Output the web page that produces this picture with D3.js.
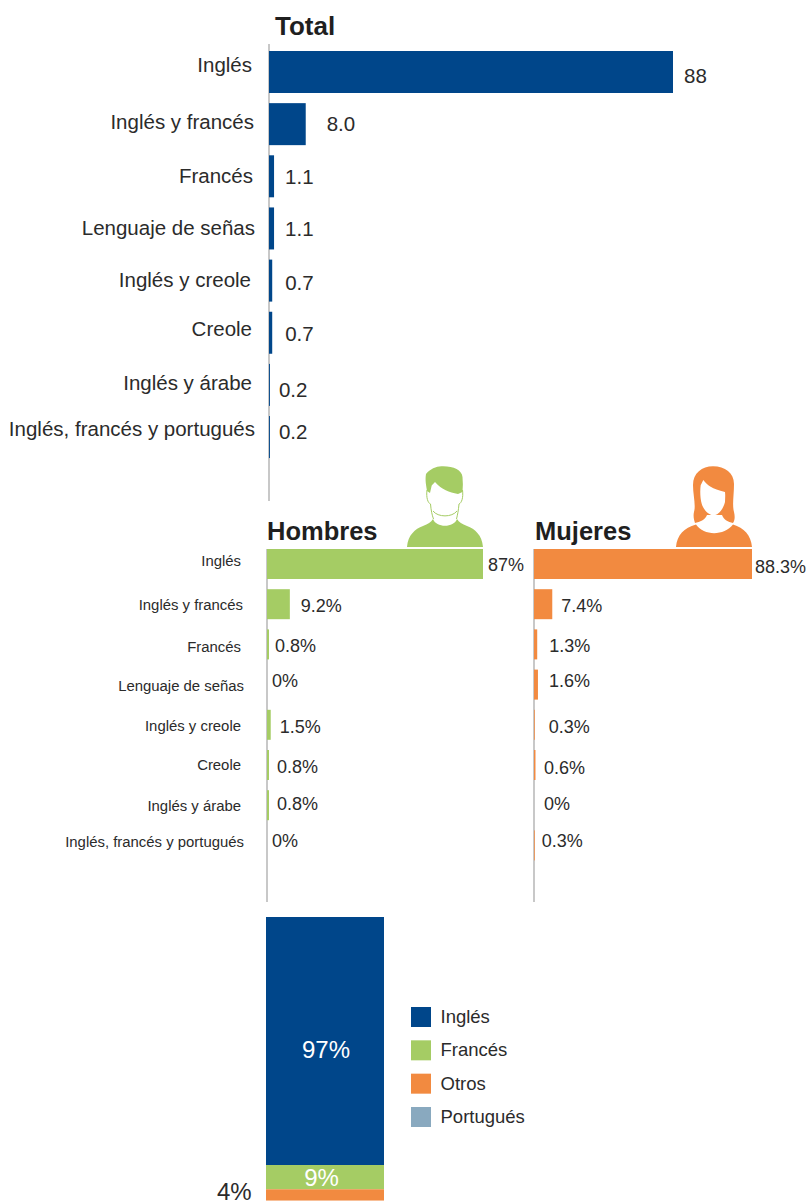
<!DOCTYPE html>
<html><head><meta charset="utf-8">
<script src="https://cdn.jsdelivr.net/npm/d3@7/dist/d3.min.js"></script>
<style>html,body{margin:0;padding:0;background:#fff}svg{display:block}text{font-family:"Liberation Sans",Arial,sans-serif;fill:#2b2b2b}</style>
</head><body><div id="c"></div>
<script>
const categories = ["Inglés","Inglés y francés","Francés","Lenguaje de señas","Inglés y creole","Creole","Inglés y árabe","Inglés, francés y portugués"];
const totalValues = [88,8.0,1.1,1.1,0.7,0.7,0.2,0.2];
const totalLabels = ["88","8.0","1.1","1.1","0.7","0.7","0.2","0.2"];
const menValues = [87,9.2,0.8,0,1.5,0.8,0.8,0];
const womenValues = [88.3,7.4,1.3,1.6,0.3,0.6,0,0.3];
const menLabels = ["87%","9.2%","0.8%","0%","1.5%","0.8%","0.8%","0%"];
const womenLabels = ["88.3%","7.4%","1.3%","1.6%","0.3%","0.6%","0%","0.3%"];
const stackNames = ["Inglés","Francés","Otros"];
const stackValues = [97,9.5,4.4];
const stackLabels = ["97%","9%","4%"];
const legendNames = ["Inglés","Francés","Otros","Portugués"];

// Layout only (hand-placed label nudges of the original)
const C = {blue:"#00468a",green:"#a5cc64",orange:"#f28a40",slate:"#89a9bf",axis:"#a3a3a3"};
const totalCatEnd = [252,254,253,255,251,252,252,255];
const totalCatDy = [21,26,28,28,27,24,26,20];
const totalValDy = [32,28,29,29,30,29,33,23];
const totalValDx = [11,21,11,11,13,13,9,9];
const smallCatEnd = [241,243,241,244,241,241,241,244];
const smallCatDy = [17,20.8,22.6,21.4,21.2,20,20.8,16.6];
const menValDy = [22,22.8,22.6,17.4,23.2,23,19.8,16.6];
const womenValDy = [24,22.8,22.6,17.4,23.2,24,19.8,16.6];
const menValDx = [5,11,6,5,9,8,8,5];
const womenValDx = [3,9,12,11,14,8.5,10,7];

const W=809,H=1201;
const svg=d3.select("#c").append("svg").attr("width",W).attr("height",H).attr("viewBox",[0,0,W,H]);

function band(top,step,h){
  const p=1-h/step;
  return d3.scaleBand().domain(categories).range([top,top+step*(categories.length-p)]).paddingInner(p).paddingOuter(0);
}
function panel(o){
  const g=svg.append("g");
  const x=d3.scaleLinear().domain([0,100]).range([o.x0,o.x0+o.perUnit*100]);
  const y=o.y;
  g.append("line").attr("x1",o.x0).attr("x2",o.x0).attr("y1",o.axis[0]).attr("y2",o.axis[1]).attr("stroke",C.axis).attr("stroke-width",1.2);
  g.selectAll("rect").data(categories).join("rect")
    .attr("x",x(0)).attr("y",d=>y(d)).attr("width",(d,i)=>x(o.values[i])-x(0)).attr("height",y.bandwidth()).attr("fill",o.color);
  if(o.catEnd) g.selectAll(".cat").data(categories).join("text").attr("class","cat")
    .attr("x",(d,i)=>o.catEnd[i]).attr("y",(d,i)=>y(d)+o.catDy[i]).attr("text-anchor","end").attr("font-size",o.catSize).text(d=>d);
  g.selectAll(".val").data(categories).join("text").attr("class","val")
    .attr("x",(d,i)=>x(o.values[i])+o.valDx[i]).attr("y",(d,i)=>y(d)+o.valDy[i]).attr("font-size",o.valSize).text((d,i)=>o.labels[i]);
  g.append("text").attr("x",o.titleX).attr("y",o.titleY).attr("font-size",o.titleSize).attr("font-weight","bold").style("fill","#1f1f1f").text(o.title);
}
panel({x0:269,perUnit:404/88,y:band(51,52.15,42),values:totalValues,labels:totalLabels,color:C.blue,axis:[44,501],
  catEnd:totalCatEnd,catDy:totalCatDy,catSize:20.5,valDy:totalValDy,valDx:totalValDx,valSize:20.5,title:"Total",titleX:275,titleY:35,titleSize:26});
panel({x0:267,perUnit:216/87,y:band(549,40.2,30),values:menValues,labels:menLabels,color:C.green,axis:[549,902],
  catEnd:smallCatEnd,catDy:smallCatDy,catSize:14.9,valDy:menValDy,valDx:menValDx,valSize:18,title:"Hombres",titleX:267,titleY:540,titleSize:25.5});
panel({x0:534,perUnit:218/88.3,y:band(549,40.2,30),values:womenValues,labels:womenLabels,color:C.orange,axis:[549,902],
  valDy:womenValDy,valDx:womenValDx,valSize:18,title:"Mujeres",titleX:535,titleY:540,titleSize:25.5});

// person icons
function man(cx,col){
  const g=svg.append("g").attr("transform",`translate(${cx},0)`);
  g.append("path").attr("fill",col).attr("d","M-38,547 C-37,535 -30,529 -22,526 C-17,524 -14,522.5 -12,519 C-9,528 9,528 12,519 C14,522.5 17,524 22,526 C30,529 37,535 38,547 Z");
  g.append("path").attr("fill","none").attr("stroke",col).attr("stroke-width",1).attr("d","M-18,490 C-19,498 -17,503 -14.5,504 C-14,510 -13,515 -11.5,519 M17.5,490 C18.5,498 16.5,503 14,504 C13.5,510 12.5,515 11.5,519 M-12,511 C-7,517.5 7,517.5 12,511");
  g.append("path").attr("fill",col).attr("d","M-18,491 C-19,484 -20,480 -19,474 C-15,469 -8,466 -3,466.3 C8,466 17,470 17.5,477 C18,482 18,487 17.5,492 L13,494 C4,492 -3,490 -10,482 L-13.3,485.5 L-15,493 Z");
}
function woman(cx,col){
  const g=svg.append("g").attr("transform",`translate(${cx},0)`);
  g.append("path").attr("fill",col).attr("d","M-38,547 C-37,535 -30,528 -18,524.5 C-10,536 10,536 19,524.5 C30,528 37,535 38,547 Z");
  g.append("path").attr("fill",col).attr("d","M-19,523 C-20,520 -21,516 -20,512 C-18,505 -21,495 -21,485 C-21,473 -12,466.5 -1,466.3 C11,466.5 20,473 20,484 C20,495 18,505 20,512 C21,516 21,520 19,523 C14,522 10,520 8,515 L-7,515 C-9,520 -14,522 -19,523 Z");
  g.append("path").attr("fill","#fff").attr("d","M-13.3,485.3 L-10.7,480 C-7,485 -2,489 11,492 C11.5,496 11,499 11,502 C9,510 4,515.3 -0.5,515.3 C-5,515.3 -10.5,510 -12.3,503.7 C-14,498 -14,490 -13.3,485.3 Z");
}
man(445,C.green);
woman(714,C.orange);

// stacked bar
const sy=d3.scaleLinear().domain([0,d3.sum(stackValues)]).range([917,917+d3.sum(stackValues)*248/97]);
const stackX=d3.scaleBand().domain(["all"]).range([266,384]);
const cum=d3.cumsum(stackValues);
const stackCol=[C.blue,C.green,C.orange];
svg.append("g").selectAll("rect").data(stackNames).join("rect")
  .attr("x",stackX("all")).attr("width",stackX.bandwidth())
  .attr("y",(d,i)=>sy(cum[i]-stackValues[i])).attr("height",(d,i)=>sy(cum[i])-sy(cum[i]-stackValues[i])).attr("fill",(d,i)=>stackCol[i]);
svg.append("text").attr("x",326).attr("y",1058).attr("text-anchor","middle").attr("font-size",24).style("fill","#fff").text(stackLabels[0]);
svg.append("text").attr("x",321.5).attr("y",1186).attr("text-anchor","middle").attr("font-size",24).style("fill","#fff").text(stackLabels[1]);
svg.append("text").attr("x",217).attr("y",1200).attr("font-size",24).text(stackLabels[2]);

// legend
const legY=d3.scalePoint().domain(legendNames).range([1007,1107]);
const legCol=[C.blue,C.green,C.orange,C.slate];
const leg=svg.append("g").selectAll("g").data(legendNames).join("g").attr("transform",d=>`translate(411,${legY(d)})`);
leg.append("rect").attr("width",20).attr("height",20).attr("fill",(d,i)=>legCol[i]);
leg.append("text").attr("x",29.5).attr("y",16).attr("font-size",18.5).text(d=>d);
</script></body></html>
